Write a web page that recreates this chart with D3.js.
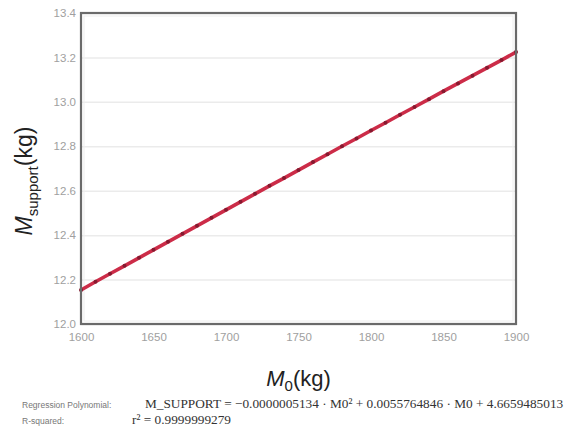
<!DOCTYPE html>
<html>
<head>
<meta charset="utf-8">
<script src="https://cdn.jsdelivr.net/npm/d3@7"></script>
<style>
  body { margin: 0; background: #fff; }
  text { font-family: "Liberation Sans", Arial, sans-serif; }
</style>
</head>
<body>
<div id="chart"></div>
<script>
// data
var m0 = [1600, 1610, 1620, 1630, 1640, 1650, 1660, 1670, 1680, 1690, 1700,
          1710, 1720, 1730, 1740, 1750, 1760, 1770, 1780, 1790, 1800,
          1810, 1820, 1830, 1840, 1850, 1860, 1870, 1880, 1890, 1900];
var mSupport = [12.153, 12.190, 12.226, 12.262, 12.298, 12.334, 12.370, 12.406, 12.442, 12.478, 12.514,
                12.550, 12.586, 12.622, 12.657, 12.693, 12.729, 12.764, 12.800, 12.835, 12.871,
                12.906, 12.942, 12.977, 13.012, 13.048, 13.083, 13.118, 13.153, 13.188, 13.224];
var xTicks = [1600, 1650, 1700, 1750, 1800, 1850, 1900];
var yTicks = [12.0, 12.2, 12.4, 12.6, 12.8, 13.0, 13.2, 13.4];
var polyText = "M_SUPPORT = \u22120.0000005134 \u00b7 M0\u00b2 + 0.0055764846 \u00b7 M0 + 4.6659485013";
var r2Text = "r\u00b2 = 0.9999999279";

var margin = {top: 13, right: 51, bottom: 106, left: 81},
    outerWidth = 567,
    outerHeight = 430,
    width = outerWidth - margin.left - margin.right,
    height = outerHeight - margin.top - margin.bottom;

var data = m0.map(function(d, i) { return {x: d, y: mSupport[i]}; });

var x = d3.scaleLinear().domain([1600, 1900]).range([0, width]);
var y = d3.scaleLinear().domain([12.0, 13.4]).range([height, 0]);

var svg = d3.select("#chart").append("svg")
    .attr("width", outerWidth)
    .attr("height", outerHeight);

var g = svg.append("g")
    .attr("transform", "translate(" + margin.left + "," + margin.top + ")");

// gridlines
g.append("g")
    .selectAll("line")
    .data(yTicks)
    .enter().append("line")
    .attr("x1", 0).attr("x2", width)
    .attr("y1", function(d) { return y(d) + 0.5; })
    .attr("y2", function(d) { return y(d) + 0.5; })
    .style("stroke", "#ebebeb")
    .style("stroke-width", 1.5);

// inner faint frame
g.append("rect")
    .attr("x", 3).attr("y", 3)
    .attr("width", width - 6).attr("height", height - 6)
    .style("fill", "none")
    .style("stroke", "#eeeeee");

// axes
var xAxis = d3.axisBottom(x).tickValues(xTicks).tickSize(0).tickPadding(9)
    .tickFormat(d3.format("d"));
var yAxis = d3.axisLeft(y).tickValues(yTicks).tickSize(0).tickPadding(5)
    .tickFormat(d3.format(".1f"));

var gX = g.append("g")
    .attr("transform", "translate(0," + height + ")")
    .call(xAxis);
var gY = g.append("g").call(yAxis);

[gX, gY].forEach(function(a) {
  a.select(".domain").remove();
  a.selectAll("text")
    .style("fill", "#a0a0a0")
    .style("font-size", "11.5px");
});

// line + dots
var line = d3.line()
    .x(function(d) { return x(d.x); })
    .y(function(d) { return y(d.y); });

g.append("path")
    .datum(data)
    .attr("d", line)
    .style("fill", "none")
    .style("stroke", "#cc2c48")
    .style("stroke-width", 3.6);

g.selectAll(".dot")
    .data(data)
    .enter().append("circle")
    .attr("class", "dot")
    .attr("cx", function(d) { return x(d.x); })
    .attr("cy", function(d) { return y(d.y); })
    .attr("r", 2)
    .style("fill", "#861a30");

// outer frame
g.append("rect")
    .attr("width", width).attr("height", height)
    .style("fill", "none")
    .style("stroke", "#6a6a6a")
    .style("stroke-width", 2.2);

// axis titles
var xt = svg.append("text")
    .attr("x", margin.left + width / 2)
    .attr("y", 386)
    .attr("text-anchor", "middle")
    .style("font-size", "22px")
    .style("fill", "#222");
xt.append("tspan").style("font-style", "italic").text("M");
xt.append("tspan").attr("dy", 5).style("font-size", "15px").text("0");
xt.append("tspan").attr("dy", -5).text("(kg)");

var yt = svg.append("text")
    .attr("transform", "translate(32,181) rotate(-90)")
    .attr("text-anchor", "middle")
    .style("font-size", "23px")
    .style("fill", "#222");
yt.append("tspan").style("font-style", "italic").text("M");
yt.append("tspan").attr("dy", 6).style("font-size", "15px").text("support");
yt.append("tspan").attr("dy", -6).text("(kg)");

// regression notes
svg.append("text")
    .attr("x", 22).attr("y", 408)
    .style("font-size", "8.5px")
    .style("fill", "#777")
    .text("Regression Polynomial:");
svg.append("text")
    .attr("x", 22).attr("y", 424)
    .style("font-size", "8.5px")
    .style("fill", "#777")
    .text("R-squared:");
svg.append("text")
    .attr("x", 145).attr("y", 408)
    .style("font-family", "'Liberation Serif', 'DejaVu Serif', serif")
    .style("font-size", "13.3px")
    .style("fill", "#333")
    .text(polyText);
svg.append("text")
    .attr("x", 132).attr("y", 424)
    .style("font-family", "'Liberation Serif', 'DejaVu Serif', serif")
    .style("font-size", "13.3px")
    .style("fill", "#333")
    .text(r2Text);
</script>
</body>
</html>
